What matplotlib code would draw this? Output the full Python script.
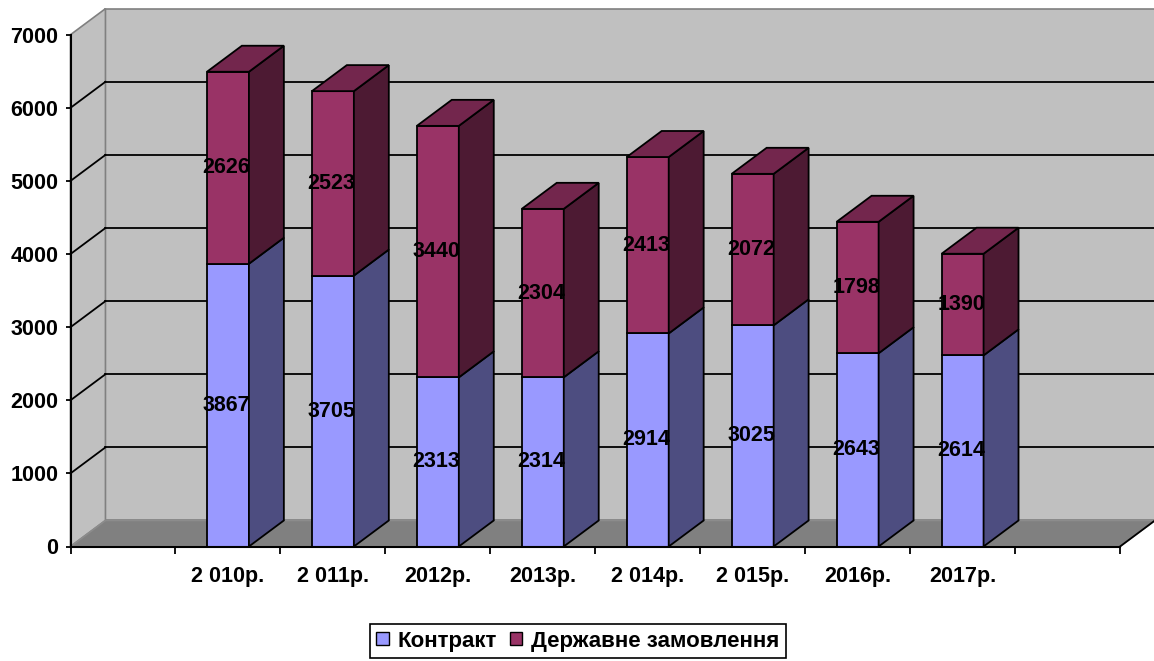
import matplotlib
matplotlib.use('Agg')
import matplotlib.pyplot as plt
from matplotlib.patches import Polygon, Patch

plt.rcParams['font.family'] = ['Liberation Sans', 'DejaVu Sans']
plt.rcParams['font.weight'] = 'bold'

# дані
years = ['2 010р.', '2 011р.', '2012р.', '2013р.', '2 014р.', '2 015р.', '2016р.', '2017р.']
contract = [3867, 3705, 2313, 2314, 2914, 3025, 2643, 2614]
state = [2626, 2523, 3440, 2304, 2413, 2072, 1798, 1390]
series_names = ['Контракт', 'Державне замовлення']

# кольори
c_front = ['#9999ff', '#993366']
c_side = ['#4d4d80', '#4d1a33']
c_top = '#73264d'
wall = '#c0c0c0'
floor = '#808080'

# глибина 3D
dx = 0.333
dy = 356
w = 0.4
n_slots = 10
ymax = 7000

fig = plt.figure(figsize=(11.54, 6.61), dpi=100)
ax = fig.add_axes([70.5 / 1154, (661 - 546.5) / 661, 1049.5 / 1154, 511.8 / 661])
ax.set_xlim(0, n_slots)
ax.set_ylim(0, ymax)
ax.patch.set_visible(False)

# стіни та підлога
ax.add_patch(Polygon([(dx, dy), (n_slots + dx, dy), (n_slots + dx, ymax + dy), (dx, ymax + dy)],
                     closed=True, facecolor=wall, edgecolor='#808080', lw=1.2, clip_on=False, zorder=0))
ax.add_patch(Polygon([(0, 0), (dx, dy), (dx, ymax + dy), (0, ymax)],
                     closed=True, facecolor=wall, edgecolor='#808080', lw=1.2, clip_on=False, zorder=0))
ax.add_patch(Polygon([(0, 0), (n_slots, 0), (n_slots + dx, dy), (dx, dy)],
                     closed=True, facecolor=floor, edgecolor='#8c8c8c', lw=1.2, clip_on=False, zorder=1))
ax.plot([n_slots, n_slots + dx], [0, dy], color='black', lw=1.3, clip_on=False, zorder=1)

# сітка
for v in range(1000, ymax, 1000):
    ax.plot([dx, n_slots + dx], [v + dy, v + dy], color='black', lw=1.3, clip_on=False, zorder=0.5)
    ax.plot([0, dx], [v, v + dy], color='black', lw=1.3, clip_on=False, zorder=0.5)

# стовпці
centers = [i + 1.5 for i in range(len(years))]
ax.bar(centers, contract, width=w, color=c_front[0], edgecolor='black', lw=1.3, zorder=3)
ax.bar(centers, state, width=w, bottom=contract, color=c_front[1], edgecolor='black', lw=1.3, zorder=3)

for x, a, b in zip(centers, contract, state):
    r = x + w / 2
    for k, (lo, hi) in enumerate([(0, a), (a, a + b)]):
        ax.add_patch(Polygon([(r, lo), (r + dx, lo + dy), (r + dx, hi + dy), (r, hi)],
                             closed=True, facecolor=c_side[k], edgecolor='black', lw=1.3,
                             clip_on=False, zorder=3))
    t = a + b
    ax.add_patch(Polygon([(x - w / 2, t), (r, t), (r + dx, t + dy), (x - w / 2 + dx, t + dy)],
                         closed=True, facecolor=c_top, edgecolor='black', lw=1.3,
                         clip_on=False, zorder=3))
    ax.text(x - 0.015, a / 2, str(a), ha='center', va='center', fontsize=15.5, fontweight='bold', zorder=5)
    ax.text(x - 0.015, a + b / 2, str(b), ha='center', va='center', fontsize=15.5, fontweight='bold', zorder=5)

# осі
for s in ['top', 'right']:
    ax.spines[s].set_visible(False)
for s in ['left', 'bottom']:
    ax.spines[s].set_linewidth(1.5)
    ax.spines[s].set_zorder(4)

ax.set_yticks(range(0, ymax + 1, 1000))
ax.tick_params(axis='y', direction='out', length=3.6, width=1.3, pad=5, labelsize=15.5)
ax.set_xticks(range(0, n_slots + 1))
ax.set_xticklabels([])
ax.tick_params(axis='x', which='major', direction='out', length=5, width=1.3)
ax.set_xticks(centers, minor=True)
ax.set_xticklabels(years, minor=True, fontsize=15.5, fontweight='bold')
ax.tick_params(axis='x', which='minor', length=0, pad=14)
for lab in ax.get_yticklabels():
    lab.set_fontweight('bold')

handles = [Patch(facecolor=c_front[0], edgecolor='black', lw=1),
           Patch(facecolor=c_front[1], edgecolor='black', lw=1)]
leg = fig.legend(handles, series_names, loc='center', bbox_to_anchor=(578 / 1154, 1 - 641 / 661),
                 ncol=2, frameon=True, fancybox=False, edgecolor='black', framealpha=1,
                 prop={'size': 16, 'weight': 'bold'}, handlelength=0.55, handleheight=0.55,
                 handletextpad=0.4, columnspacing=0.6, borderpad=0.3, borderaxespad=0)
leg.get_frame().set_linewidth(1.2)

fig.savefig('out.png', dpi=100)
